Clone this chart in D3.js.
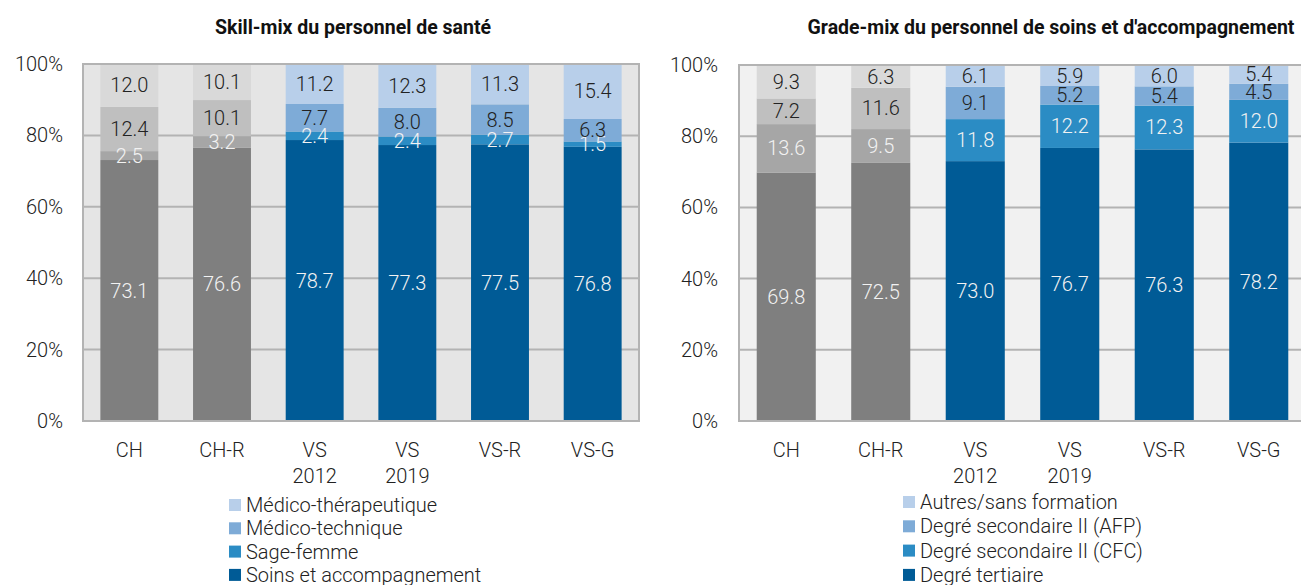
<!DOCTYPE html>
<html>
<head>
<meta charset="utf-8">
<script src="https://cdn.jsdelivr.net/npm/d3@7"></script>
<style>
  body { margin: 0; background: #fff; }
  text { font-family: Roboto, "Noto Sans", sans-serif; }
</style>
</head>
<body>
<svg id="chart" width="1301" height="585"></svg>
<script>
// categories (shared by both panels)
var categories = ["CH", "CH-R", "VS\n2012", "VS\n2019", "VS-R", "VS-G"];
var yTicks = [0, 20, 40, 60, 80, 100];

// panel 1 : skill-mix, series from bottom to top
var skillSeries = ["Soins et accompagnement", "Sage-femme", "Médico-technique", "Médico-thérapeutique"];
var skillSoins = [73.1, 76.6, 78.7, 77.3, 77.5, 76.8];
var skillSage = [2.5, 3.2, 2.4, 2.4, 2.7, 1.5];
var skillTech = [12.4, 10.1, 7.7, 8.0, 8.5, 6.3];
var skillThera = [12.0, 10.1, 11.2, 12.3, 11.3, 15.4];

// panel 2 : grade-mix, series from bottom to top
var gradeSeries = ["Degré tertiaire", "Degré secondaire II (CFC)", "Degré secondaire II (AFP)", "Autres/sans formation"];
var gradeTert = [69.8, 72.5, 73.0, 76.7, 76.3, 78.2];
var gradeCFC = [13.6, 9.5, 11.8, 12.2, 12.3, 12.0];
var gradeAFP = [7.2, 11.6, 9.1, 5.2, 5.4, 4.5];
var gradeAutres = [9.3, 6.3, 6.1, 5.9, 6.0, 5.4];

// colours: CH bars are grey, VS bars are blue
var blues = ["#005b96", "#2b8cc4", "#7eabd7", "#b8cfea"];
var greys = ["#7f7f7f", "#a6a6a6", "#bfbfbf", "#d9d9d9"];
var labelColors = ["#f2f2f2", "#f2f2f2", "#222", "#222"];

var fontSize = 20;

var svg = d3.select("#chart");

function drawPanel(opt) {
	var g = svg.append("g");

	var x = d3.scaleBand()
		.domain(categories)
		.range([opt.left, opt.right])
		.paddingInner(0.375)
		.paddingOuter(0.1875);

	var y = d3.scaleLinear()
		.domain([0, 100])
		.range([opt.bottom, opt.top]);

	// plot background
	g.append("rect")
		.attr("x", opt.left)
		.attr("y", opt.top)
		.attr("width", opt.right - opt.left)
		.attr("height", opt.bottom - opt.top)
		.attr("fill", opt.bg);

	// gridlines behind the bars
	g.selectAll(".grid")
		.data(yTicks.slice(1, -1))
		.enter()
		.append("line")
		.attr("x1", opt.left)
		.attr("x2", opt.right)
		.attr("y1", function(d) { return y(d); })
		.attr("y2", function(d) { return y(d); })
		.attr("stroke", "#b3b3b3")
		.attr("stroke-width", 2);

	// stack the series
	var rows = categories.map(function(c, i) {
		var row = {cat: c};
		opt.series.forEach(function(s, k) { row[s] = opt.values[k][i]; });
		return row;
	});
	var stacked = d3.stack().keys(opt.series)(rows);

	stacked.forEach(function(layer, k) {
		g.selectAll(".seg" + k)
			.data(layer)
			.enter()
			.append("rect")
			.attr("x", function(d) { return x(d.data.cat); })
			.attr("width", x.bandwidth())
			.attr("y", function(d) { return y(d[1]); })
			.attr("height", function(d) { return y(d[0]) - y(d[1]); })
			.attr("fill", function(d, i) { return i < 2 ? greys[k] : blues[k]; });
	});

	// value labels centred in each segment
	stacked.forEach(function(layer, k) {
		g.selectAll(".val" + k)
			.data(layer)
			.enter()
			.append("text")
			.attr("x", function(d) { return x(d.data.cat) + x.bandwidth() / 2; })
			.attr("y", function(d) { return y((d[0] + d[1]) / 2); })
			.attr("dy", "0.35em")
			.attr("text-anchor", "middle")
			.attr("font-size", fontSize)
			.attr("font-weight", 300)
			.attr("fill", labelColors[k])
			.text(function(d) { return d3.format(".1f")(d[1] - d[0]); });
	});

	// plot border
	g.append("rect")
		.attr("x", opt.left)
		.attr("y", opt.top)
		.attr("width", opt.right - opt.left)
		.attr("height", opt.bottom - opt.top)
		.attr("fill", "none")
		.attr("stroke", "#b3b3b3")
		.attr("stroke-width", 2);

	// y axis
	var yAxis = g.append("g")
		.attr("transform", "translate(" + opt.left + ",0)")
		.call(d3.axisLeft(y).tickValues(yTicks).tickSize(0).tickPadding(opt.tickPad)
			.tickFormat(function(d) { return d + "%"; }));
	yAxis.select(".domain").remove();
	yAxis.selectAll("text")
		.attr("font-size", fontSize)
		.attr("font-weight", 300)
		.attr("fill", "#222")
		.style("font-family", "Roboto, sans-serif");

	// x axis labels, can be two lines
	var xl = g.selectAll(".xlab")
		.data(categories)
		.enter()
		.append("text")
		.attr("text-anchor", "middle")
		.attr("font-size", fontSize)
		.attr("font-weight", 300)
		.attr("fill", "#222")
		.attr("transform", function(d) {
			return "translate(" + (x(d) + x.bandwidth() / 2) + "," + (opt.bottom + 36) + ")";
		});
	xl.selectAll("tspan")
		.data(function(d) { return d.split("\n"); })
		.enter()
		.append("tspan")
		.attr("x", 0)
		.attr("dy", function(d, i) { return i ? 26 : 0; })
		.text(function(d) { return d; });

	// title
	g.append("text")
		.attr("x", opt.titleX)
		.attr("y", 34)
		.attr("text-anchor", "middle")
		.attr("font-size", 19.5)
		.attr("font-weight", 700)
		.attr("fill", "#111")
		.text(opt.title);

	// legend, top series first
	var leg = g.selectAll(".leg")
		.data(opt.series.slice().reverse())
		.enter()
		.append("g")
		.attr("transform", function(d, i) {
			return "translate(" + opt.legX + "," + (opt.legY + i * opt.legStep) + ")";
		});
	leg.append("rect")
		.attr("x", 0)
		.attr("y", -6)
		.attr("width", 12)
		.attr("height", 12)
		.attr("fill", function(d, i) { return blues[3 - i]; });
	leg.append("text")
		.attr("x", 17)
		.attr("dy", "0.35em")
		.attr("font-size", fontSize)
		.attr("font-weight", 300)
		.attr("fill", "#222")
		.text(function(d) { return d; });
}

drawPanel({
	left: 83, right: 639, top: 64, bottom: 421,
	bg: "#e5e5e5", tickPad: 20,
	series: skillSeries,
	values: [skillSoins, skillSage, skillTech, skillThera],
	title: "Skill-mix du personnel de santé", titleX: 353,
	legX: 229, legY: 505, legStep: 23.3
});

drawPanel({
	left: 739, right: 1306, top: 65, bottom: 421,
	bg: "#f1f1f1", tickPad: 21,
	series: gradeSeries,
	values: [gradeTert, gradeCFC, gradeAFP, gradeAutres],
	title: "Grade-mix du personnel de soins et d'accompagnement", titleX: 1051,
	legX: 903, legY: 502, legStep: 24.3
});
</script>
</body>
</html>
